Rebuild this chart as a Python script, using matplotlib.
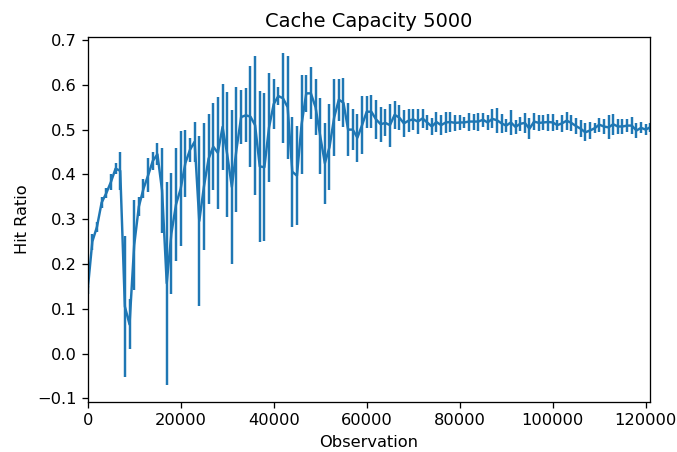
import numpy as np
import matplotlib
matplotlib.use("Agg")
import matplotlib.pyplot as plt

# Observation counts (one sample every 1000 requests, plus the final count)
observations = np.append(np.arange(0, 121000, 1000), 120900)

# Mean hit ratio at each observation
hitRatio = [
    0.142, 0.250, 0.283, 0.337, 0.358, 0.383, 0.413, 0.408, 0.105, 0.065,
    0.242, 0.328, 0.368, 0.398, 0.430, 0.445, 0.364, 0.157, 0.268, 0.333,
    0.368, 0.425, 0.455, 0.473, 0.296, 0.373, 0.435, 0.462, 0.448, 0.506,
    0.445, 0.372, 0.456, 0.528, 0.532, 0.529, 0.510, 0.418, 0.416, 0.505,
    0.557, 0.575, 0.570, 0.550, 0.406, 0.397, 0.512, 0.581, 0.581, 0.550,
    0.486, 0.425, 0.461, 0.527, 0.567, 0.560, 0.500, 0.500, 0.482, 0.510,
    0.540, 0.540, 0.523, 0.512, 0.515, 0.510, 0.533, 0.527, 0.514, 0.520,
    0.523, 0.518, 0.525, 0.516, 0.507, 0.517, 0.510, 0.516, 0.517, 0.515,
    0.516, 0.516, 0.518, 0.518, 0.518, 0.522, 0.516, 0.524, 0.521, 0.514,
    0.509, 0.516, 0.506, 0.513, 0.515, 0.502, 0.518, 0.515, 0.516, 0.517,
    0.516, 0.510, 0.514, 0.520, 0.515, 0.508, 0.502, 0.494, 0.498, 0.503,
    0.511, 0.507, 0.505, 0.512, 0.507, 0.507, 0.509, 0.509, 0.498, 0.504,
    0.500, 0.505,
]

# Half-width of the error bar at each observation
hitRatioErr = [
    0.008, 0.018, 0.011, 0.013, 0.011, 0.018, 0.012, 0.043, 0.158, 0.056,
    0.100, 0.022, 0.021, 0.038, 0.020, 0.025, 0.094, 0.227, 0.136, 0.126,
    0.129, 0.075, 0.027, 0.045, 0.190, 0.142, 0.100, 0.097, 0.125, 0.096,
    0.140, 0.171, 0.140, 0.060, 0.060, 0.113, 0.155, 0.168, 0.165, 0.121,
    0.055, 0.020, 0.100, 0.115, 0.123, 0.110, 0.110, 0.042, 0.058, 0.062,
    0.084, 0.090, 0.096, 0.087, 0.047, 0.055, 0.060, 0.045, 0.054, 0.065,
    0.036, 0.037, 0.043, 0.039, 0.030, 0.048, 0.032, 0.028, 0.030, 0.025,
    0.024, 0.028, 0.022, 0.017, 0.020, 0.022, 0.023, 0.023, 0.022, 0.018,
    0.017, 0.013, 0.020, 0.018, 0.020, 0.016, 0.017, 0.021, 0.028, 0.022,
    0.014, 0.027, 0.015, 0.016, 0.022, 0.023, 0.019, 0.018, 0.016, 0.019,
    0.020, 0.011, 0.019, 0.020, 0.018, 0.017, 0.019, 0.020, 0.018, 0.011,
    0.016, 0.016, 0.027, 0.023, 0.017, 0.017, 0.014, 0.019, 0.016, 0.012,
    0.012, 0.010,
]

capacity = 5000


def plotHitRatio(x, y, err, capacity, filename="out.png"):
    '''
    Plot the mean hit ratio with one-standard-deviation error bars.
    '''
    dpi = 117
    fig, ax = plt.subplots(nrows=1, ncols=1, figsize=(677/dpi, 452/dpi), dpi=dpi)
    fig.subplots_adjust(left=0.1295, right=0.960, top=0.918, bottom=0.1106)

    ax.errorbar(x, y, yerr=err, color="#1f77b4")

    ax.set_xlim(0, x[-1])
    ax.set_ylim(-0.1083, 0.7067)
    ax.set_title(f"Cache Capacity {capacity}")
    ax.set_xlabel("Observation")
    ax.set_ylabel("Hit Ratio")

    plt.savefig(filename, dpi=dpi)
    plt.close()


plotHitRatio(observations, hitRatio, hitRatioErr, capacity)
